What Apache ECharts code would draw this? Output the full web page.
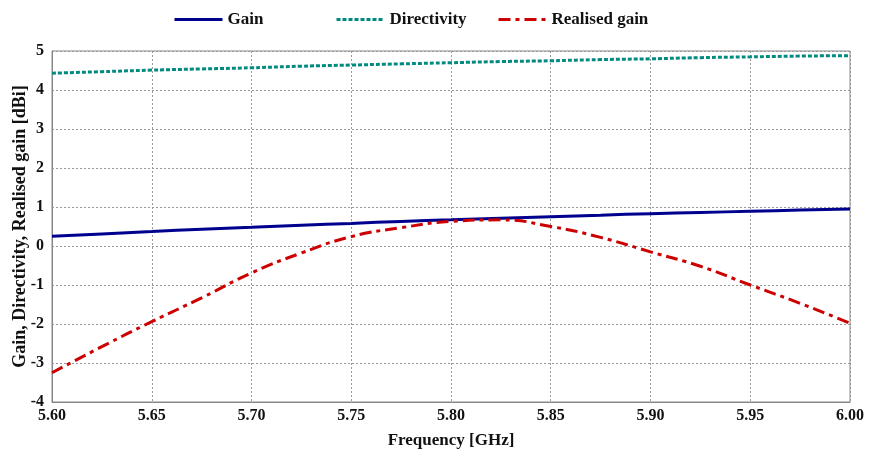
<!DOCTYPE html>
<html><head><meta charset="utf-8">
<script src="https://cdn.jsdelivr.net/npm/echarts@6/dist/echarts.min.js"></script>
<style>html,body{margin:0;padding:0;background:#fff}#c{width:870px;height:454px}</style>
</head><body><div id="c"></div>
<script>
const freqs = [5.60,5.625,5.65,5.675,5.70,5.725,5.75,5.775,5.80,5.825,5.85,5.875,5.90,5.925,5.95,5.975,6.00];
const gain = [0.25,0.31,0.37,0.43,0.48,0.53,0.58,0.63,0.67,0.71,0.75,0.79,0.83,0.86,0.89,0.92,0.95];
const directivity = [4.43,4.47,4.51,4.54,4.57,4.61,4.64,4.67,4.70,4.73,4.75,4.78,4.80,4.83,4.85,4.87,4.88];
const realised = [-3.25,-2.58,-1.94,-1.33,-0.69,-0.18,0.24,0.47,0.63,0.67,0.50,0.22,-0.15,-0.52,-1.0,-1.47,-1.98];
const xTicks = {min:5.60, max:6.00, step:0.05};
const yTicks = {min:-4, max:5, step:1};

const font = 'Liberation Serif';
const pair = (arr) => freqs.map((f,i)=>[f,arr[i]]);
const legendBase = {top: 6, itemWidth: 48, itemHeight: 14, itemGap: 12,
  itemStyle:{opacity:0}, lineStyle:{width:3},
  textStyle:{fontFamily:font, fontWeight:'bold', fontSize:17, color:'#111'}};
const chart = echarts.init(document.getElementById('c'));
chart.setOption({
  animation:false,
  legend:[
    Object.assign({left:168, data:['Gain']}, legendBase),
    Object.assign({left:330, data:['Directivity']}, legendBase),
    Object.assign({left:492, data:['Realised gain']}, legendBase)
  ],
  grid:{left:52, right:20, top:51, bottom:52, show:true, borderColor:'#888', borderWidth:1, outerBoundsMode:'none', containLabel:false},
  xAxis:{type:'value', min:xTicks.min, max:xTicks.max, interval:xTicks.step,
    name:'Frequency [GHz]', nameLocation:'middle', nameGap:30,
    nameTextStyle:{fontFamily:font, fontWeight:'bold', fontSize:17, color:'#111'},
    axisLine:{show:true, onZero:false, lineStyle:{color:'#888'}}, axisTick:{show:false},
    axisLabel:{fontFamily:font, fontWeight:'bold', fontSize:16, color:'#111', margin:6,
      formatter:v=>v.toFixed(2)},
    splitLine:{show:true, lineStyle:{color:'#999', type:[2,2], width:1}}},
  yAxis:{type:'value', min:yTicks.min, max:yTicks.max, interval:yTicks.step,
    name:'Gain, Directivity, Realised gain [dBi]', nameLocation:'middle', nameGap:23, nameRotate:90,
    nameMoveOverlap:false,
    nameTextStyle:{fontFamily:font, fontWeight:'bold', fontSize:18, color:'#111'},
    axisLine:{show:true, onZero:false, lineStyle:{color:'#888'}}, axisTick:{show:false},
    axisLabel:{fontFamily:font, fontWeight:'bold', fontSize:16, color:'#111', margin:8},
    splitLine:{show:true, lineStyle:{color:'#999', type:[2,2], width:1}}},
  series:[
    {name:'Gain', type:'line', data:pair(gain), smooth:true, showSymbol:false, symbol:'none',
      lineStyle:{color:'#00008e', width:3}, itemStyle:{color:'#00008e'}},
    {name:'Directivity', type:'line', data:pair(directivity), smooth:true, showSymbol:false, symbol:'none',
      lineStyle:{color:'#008a80', width:3, type:[4,2]}, itemStyle:{color:'#008a80'}},
    {name:'Realised gain', type:'line', data:pair(realised), smooth:true, showSymbol:false, symbol:'none',
      lineStyle:{color:'#cc0000', width:3, type:[12,5,4,5]}, itemStyle:{color:'#cc0000'}}
  ]
});
</script></body></html>
